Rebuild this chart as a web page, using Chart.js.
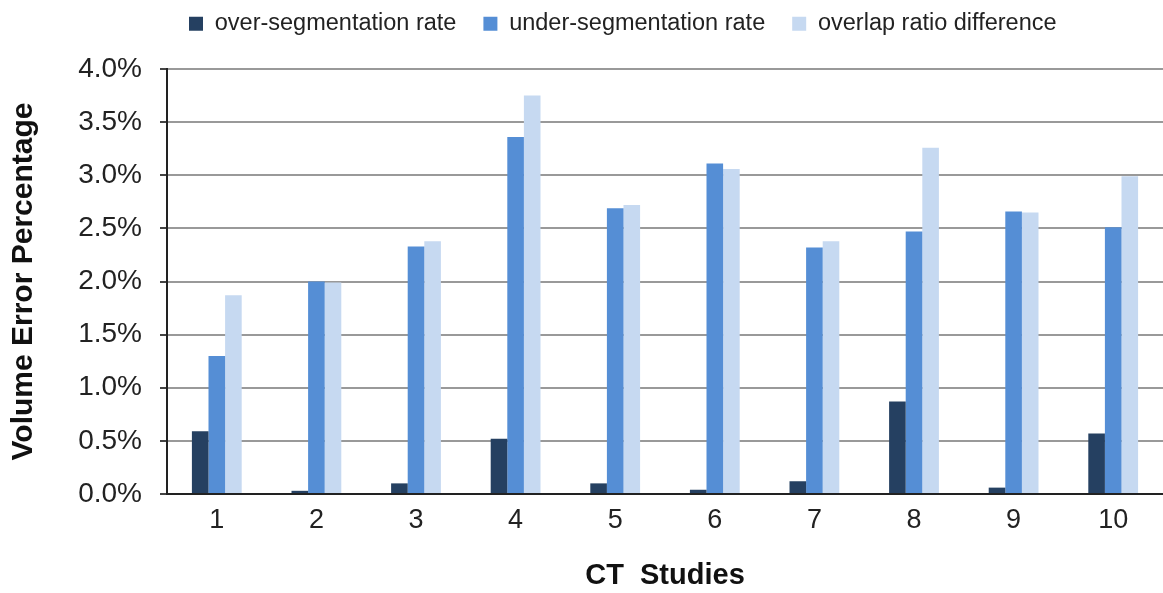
<!DOCTYPE html>
<html>
<head>
<meta charset="utf-8">
<script src="https://cdn.jsdelivr.net/npm/chart.js@4"></script>
<style>
  html, body { margin: 0; padding: 0; background: #fff; }
  #wrap { width: 1163px; height: 593px; }
</style>
</head>
<body>
<div id="wrap"><canvas id="chart" width="1163" height="593"></canvas></div>
<script>
const studies = ["1", "2", "3", "4", "5", "6", "7", "8", "9", "10"];
const overSeg = [0.59, 0.03, 0.10, 0.52, 0.10, 0.04, 0.12, 0.87, 0.06, 0.57];
const underSeg = [1.30, 2.00, 2.33, 3.36, 2.69, 3.11, 2.32, 2.47, 2.66, 2.51];
const overlapDiff = [1.87, 1.99, 2.38, 3.75, 2.72, 3.06, 2.38, 3.26, 2.65, 2.99];

const font = "'Liberation Sans', Arial, sans-serif";

// legend sits in a fixed 69px band, items start at x=189
const legendPlace = {
  id: "legendPlace",
  beforeInit(chart) {
    const fit = chart.legend.fit;
    chart.legend.fit = function () {
      fit.call(this);
      this.height = 69;
    };
  },
  afterLayout(chart) {
    chart.legend.left = 162;
    chart.legend.top = -15;
  }
};

new Chart(document.getElementById("chart").getContext("2d"), {
  type: "bar",
  data: {
    labels: studies,
    datasets: [
      { label: "over-segmentation rate", data: overSeg, backgroundColor: "#254061" },
      { label: "under-segmentation rate", data: underSeg, backgroundColor: "#558ed5" },
      { label: "overlap ratio difference", data: overlapDiff, backgroundColor: "#c6d9f1" }
    ]
  },
  plugins: [legendPlace],
  options: {
    responsive: false,
    animation: false,
    layout: { padding: 0 },
    datasets: { bar: { barPercentage: 1, categoryPercentage: 0.5 } },
    plugins: {
      legend: {
        display: true,
        position: "top",
        align: "start",
        labels: {
          color: "#222",
          font: { family: font, size: 23.5 },
          boxWidth: 14,
          boxHeight: 14,
          padding: 27
        }
      },
      tooltip: { enabled: false }
    },
    scales: {
      x: {
        afterFit: s => { s.height = 99; },
        grid: { display: false, drawTicks: false },
        border: { color: "#222", width: 2 },
        ticks: { color: "#222", font: { family: font, size: 27 }, padding: 10 },
        title: {
          display: true,
          text: "CT  Studies",
          color: "#111",
          font: { family: font, size: 29, weight: "bold" },
          padding: { top: 0, bottom: 0 }
        }
      },
      y: {
        min: 0,
        max: 4,
        afterFit: s => { s.width = 167; },
        grid: { color: "#999", lineWidth: 2, tickLength: 7, tickColor: "#444" },
        border: { color: "#222", width: 2 },
        ticks: {
          stepSize: 0.5,
          color: "#222",
          font: { family: font, size: 28 },
          padding: 18,
          callback: v => v.toFixed(1) + "%"
        },
        title: {
          display: true,
          text: "Volume Error Percentage",
          color: "#111",
          font: { family: font, size: 30, weight: "bold" },
          padding: { top: 6, bottom: 0 }
        }
      }
    }
  }
});
</script>
</body>
</html>
